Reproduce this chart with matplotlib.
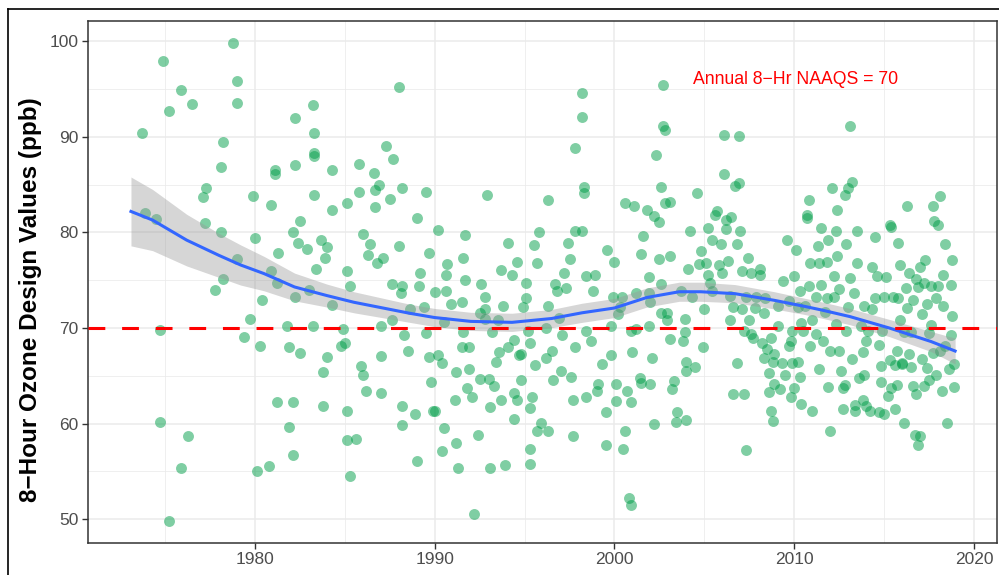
import numpy as np
import matplotlib
matplotlib.use("Agg")
import matplotlib.pyplot as plt
from matplotlib.lines import Line2D

plt.rcParams['font.family'] = ['Liberation Sans', 'DejaVu Sans']

# design values (year, ppb)
obs_year = [1973.7, 1973.9, 1974.5, 1974.7, 1974.7, 1974.9, 1975.2, 1975.2, 1975.9, 1975.9,
            1976.3, 1976.5, 1977.1, 1977.3, 1977.2, 1977.8, 1978.1, 1978.2, 1978.2, 1978.1,
            1978.8, 1979.0, 1979.0, 1979.0, 1979.4, 1979.7, 1979.9, 1980.0, 1980.1, 1980.3,
            1980.4, 1980.8, 1980.9, 1980.9, 1981.1, 1981.1, 1981.2, 1981.3, 1981.2, 1981.8,
            1981.9, 1982.1, 1982.2, 1982.2, 1982.2, 1982.1, 1981.9, 1982.1, 1982.5, 1982.4,
            1982.5, 1982.9, 1983.0, 1983.2, 1983.3, 1983.3, 1983.3, 1983.3, 1983.2, 1983.4,
            1983.7, 1983.9, 1983.8, 1983.8, 1984.0, 1984.0, 1984.3, 1984.3, 1984.3, 1984.8,
            1984.9, 1985.0, 1985.1, 1985.1, 1985.1, 1985.1, 1985.3, 1985.3, 1985.6, 1985.8,
            1985.8, 1985.9, 1986.0, 1986.0, 1986.2, 1986.3, 1986.4, 1986.6, 1986.7, 1986.7,
            1986.9, 1986.8, 1987.0, 1987.0, 1987.0, 1987.1, 1987.3, 1987.5, 1987.6, 1987.6,
            1987.7, 1988.0, 1988.0, 1988.1, 1988.2, 1988.2, 1988.2, 1988.2, 1988.3, 1988.5,
            1988.6, 1988.9, 1989.0, 1989.0, 1989.1, 1989.2, 1989.4, 1989.5, 1989.5, 1989.7,
            1989.7, 1989.8, 1989.9, 1990.0, 1990.0, 1990.2, 1990.2, 1990.4, 1990.5, 1990.6,
            1990.6, 1990.7, 1990.4, 1990.5, 1990.9, 1991.1, 1991.2, 1991.2, 1991.5, 1991.5,
            1991.6, 1991.7, 1991.7, 1991.3, 1991.6, 1991.8, 1991.9, 1992.1, 1991.9, 1992.2,
            1992.4, 1992.5, 1992.5, 1992.6, 1992.8, 1992.8, 1992.8, 1992.9, 1993.1, 1993.1,
            1993.0, 1993.2, 1993.3, 1993.4, 1993.5, 1993.6, 1993.7, 1993.7, 1993.8, 1993.9,
            1994.1, 1994.1, 1994.3, 1994.4, 1994.4, 1994.4, 1994.6, 1994.6, 1994.7, 1994.8,
            1994.8, 1994.9, 1995.1, 1995.1, 1995.2, 1995.3, 1995.3, 1995.3, 1995.3, 1995.4,
            1995.6, 1995.5, 1995.7, 1995.9, 1995.7, 1995.8, 1996.2, 1996.2, 1996.3, 1996.3,
            1996.3, 1996.5, 1996.6, 1996.8, 1996.7, 1996.9, 1997.1, 1997.0, 1997.2, 1997.3,
            1997.4, 1997.5, 1997.6, 1997.7, 1997.7, 1997.8, 1997.8, 1997.8, 1998.2, 1998.2,
            1998.2, 1998.3, 1998.3, 1998.4, 1998.4, 1998.4, 1998.7, 1998.8, 1998.9, 1999.0,
            1999.1, 1999.3, 1999.5, 1999.5, 1999.6, 1999.8, 1999.8, 1999.9, 2000.0, 2000.1,
            2000.1, 2000.2, 2000.3, 2000.4, 2000.5, 2000.6, 2000.6, 2000.7, 2000.8, 2000.9,
            2000.9, 2001.0, 2000.9, 2001.1, 2001.2, 2001.2, 2001.4, 2001.5, 2001.5, 2001.6,
            2001.8, 2001.9, 2001.9, 2001.9, 2002.0, 2002.0, 2002.1, 2002.2, 2002.2, 2002.3,
            2002.5, 2002.5, 2002.6, 2002.6, 2002.6, 2002.7, 2002.7, 2002.8, 2002.8, 2002.9,
            2002.9, 2003.1, 2003.1, 2003.1, 2003.2, 2003.3, 2003.4, 2003.5, 2003.7, 2003.8,
            2003.9, 2003.9, 2004.0, 2004.0, 2004.0, 2004.1, 2004.2, 2004.3, 2004.5, 2004.6,
            2004.7, 2004.8, 2004.9, 2005.0, 2005.1, 2005.2, 2005.2, 2005.3, 2005.4, 2005.4,
            2005.6, 2005.7, 2005.8, 2005.9, 2006.0, 2006.1, 2006.1, 2006.2, 2006.2, 2006.3,
            2006.4, 2006.4, 2006.5, 2006.6, 2006.6, 2006.7, 2006.8, 2006.8, 2006.9, 2006.9,
            2007.0, 2007.1, 2007.1, 2007.2, 2007.2, 2007.3, 2007.3, 2007.4, 2007.5, 2007.6,
            2007.6, 2007.7, 2007.8, 2007.9, 2008.1, 2008.1, 2008.2, 2008.3, 2008.3, 2008.4,
            2008.5, 2008.6, 2008.6, 2008.7, 2008.7, 2008.8, 2008.8, 2008.9, 2008.9, 2009.1,
            2009.1, 2009.2, 2009.3, 2009.4, 2009.5, 2009.6, 2009.7, 2009.7, 2009.8, 2009.8,
            2009.9, 2009.9, 2010.0, 2010.0, 2010.1, 2010.2, 2010.2, 2010.3, 2010.3, 2010.4,
            2010.4, 2010.5, 2010.6, 2010.7, 2010.7, 2010.8, 2010.8, 2010.9, 2010.9, 2011.0,
            2011.0, 2011.2, 2011.2, 2011.3, 2011.4, 2011.4, 2011.5, 2011.5, 2011.6, 2011.7,
            2011.8, 2011.8, 2011.9, 2011.9, 2012.0, 2012.0, 2012.1, 2012.2, 2012.2, 2012.3,
            2012.3, 2012.4, 2012.4, 2012.5, 2012.5, 2012.6, 2012.7, 2012.7, 2012.8, 2012.8,
            2012.9, 2012.9, 2013.0, 2013.0, 2013.1, 2013.1, 2013.2, 2013.2, 2013.3, 2013.4,
            2013.4, 2013.5, 2013.5, 2013.6, 2013.7, 2013.8, 2013.8, 2013.9, 2013.9, 2014.0,
            2014.0, 2014.1, 2014.2, 2014.3, 2014.3, 2014.5, 2014.5, 2014.6, 2014.7, 2014.7,
            2014.8, 2014.8, 2014.9, 2015.0, 2015.0, 2015.1, 2015.2, 2015.3, 2015.3, 2015.4,
            2015.4, 2015.5, 2015.6, 2015.6, 2015.7, 2015.7, 2015.8, 2015.8, 2015.9, 2015.9,
            2016.0, 2016.0, 2016.1, 2016.1, 2016.2, 2016.3, 2016.3, 2016.4, 2016.4, 2016.5,
            2016.5, 2016.6, 2016.6, 2016.7, 2016.8, 2016.8, 2016.9, 2016.9, 2017.0, 2017.0,
            2017.1, 2017.1, 2017.2, 2017.2, 2017.3, 2017.4, 2017.4, 2017.5, 2017.5, 2017.6,
            2017.6, 2017.7, 2017.7, 2017.8, 2017.9, 2017.9, 2018.0, 2018.0, 2018.1, 2018.1,
            2018.2, 2018.3, 2018.3, 2018.4, 2018.4, 2018.5, 2018.6, 2018.7, 2018.7, 2018.8,
            2018.8, 2018.9, 2018.9]
obs_ppb = [90.4, 82.0, 81.4, 69.8, 60.2, 97.9, 92.7, 49.8, 55.4, 94.9,
           58.7, 93.4, 83.7, 84.6, 81.0, 74.0, 86.8, 89.5, 75.1, 80.1,
           99.8, 95.8, 93.5, 77.2, 69.1, 71.0, 83.8, 79.4, 55.1, 68.1,
           72.9, 55.6, 82.9, 76.0, 86.5, 86.1, 74.7, 77.9, 62.3, 70.2,
           68.0, 80.0, 73.2, 92.0, 87.1, 62.3, 59.7, 56.7, 67.4, 78.9,
           81.2, 78.3, 74.0, 93.3, 90.4, 88.3, 88.0, 83.9, 70.2, 76.2,
           79.2, 77.3, 65.4, 61.8, 67.0, 78.5, 82.3, 86.5, 72.4, 68.1,
           69.9, 68.4, 61.3, 58.3, 83.1, 76.0, 74.4, 54.5, 58.4, 87.2,
           84.2, 66.0, 79.8, 65.1, 63.4, 77.6, 78.8, 86.2, 82.7, 84.4,
           85.0, 76.8, 70.2, 67.1, 63.2, 77.3, 89.0, 83.5, 74.6, 70.8,
           87.7, 95.2, 78.6, 73.7, 84.6, 61.8, 74.4, 59.9, 69.3, 67.6,
           72.0, 61.0, 56.1, 81.5, 74.4, 75.8, 72.2, 69.5, 84.2, 67.0,
           77.9, 64.4, 61.3, 73.8, 61.3, 67.2, 80.3, 66.3, 70.6, 75.5,
           73.9, 76.7, 57.1, 59.5, 72.5, 62.5, 58.0, 65.4, 68.0, 72.7,
           69.6, 75.0, 79.7, 55.4, 77.3, 63.7, 65.7, 62.8, 68.0, 50.6,
           58.8, 64.7, 71.6, 74.6, 71.0, 73.3, 72.0, 83.9, 61.7, 55.4,
           64.7, 69.6, 63.9, 66.4, 70.8, 67.5, 62.5, 76.1, 72.3, 55.7,
           68.0, 78.9, 75.6, 68.8, 63.2, 60.5, 62.5, 76.9, 67.2, 64.6,
           67.3, 72.2, 74.7, 73.1, 69.7, 55.8, 68.4, 61.6, 57.4, 62.8,
           66.1, 78.7, 76.8, 60.1, 59.2, 80.1, 66.9, 70.0, 72.3, 83.4,
           59.2, 67.6, 64.6, 73.9, 74.6, 71.1, 69.3, 65.5, 75.8, 74.2,
           78.9, 77.2, 64.9, 62.5, 58.7, 80.2, 88.8, 68.0, 94.6, 92.1,
           80.2, 84.8, 84.1, 75.4, 69.7, 62.8, 68.6, 73.9, 75.5, 63.4,
           64.1, 66.2, 61.2, 57.8, 78.2, 70.2, 67.2, 73.3, 76.9, 62.4,
           64.2, 71.5, 72.2, 73.2, 57.4, 59.2, 83.1, 63.4, 52.2, 62.3,
           69.7, 67.5, 51.5, 82.8, 69.9, 73.7, 64.8, 64.3, 77.8, 79.6,
           82.3, 75.3, 70.2, 73.7, 72.7, 64.1, 66.9, 81.7, 60.0, 88.1,
           77.2, 81.1, 74.6, 71.6, 84.8, 95.4, 91.1, 90.7, 83.1, 71.6,
           70.8, 77.5, 83.2, 68.9, 63.6, 64.5, 60.2, 61.2, 73.9, 68.6,
           69.6, 70.9, 66.5, 65.5, 60.4, 76.2, 80.2, 73.3, 65.9, 84.1,
           76.7, 78.1, 68.0, 72.0, 76.8, 75.5, 80.5, 74.7, 79.2, 73.9,
           81.8, 82.2, 76.6, 78.8, 75.8, 86.1, 90.2, 81.3, 80.4, 77.0,
           73.4, 70.8, 81.6, 72.2, 63.1, 84.9, 78.8, 66.3, 85.2, 90.1,
           80.2, 76.0, 72.0, 69.7, 63.1, 57.2, 73.2, 77.3, 70.8, 75.8,
           69.4, 69.0, 72.1, 73.2, 75.6, 76.2, 68.4, 71.6, 66.9, 73.1,
           67.8, 65.3, 63.3, 61.3, 69.0, 66.5, 60.3, 67.3, 64.2, 70.2,
           72.3, 63.6, 66.3, 74.9, 65.1, 79.2, 72.8, 68.1, 62.8, 68.6,
           69.7, 66.3, 75.4, 63.7, 78.2, 72.2, 66.5, 64.9, 73.9, 70.5,
           62.1, 69.7, 72.3, 81.5, 81.8, 83.4, 74.4, 68.1, 76.8, 70.8,
           61.3, 73.2, 69.4, 78.6, 76.8, 65.7, 80.5, 74.5, 68.6, 71.7,
           76.9, 73.1, 63.8, 79.2, 67.6, 59.2, 84.6, 73.2, 75.4, 70.4,
           80.2, 82.4, 77.5, 74.1, 67.6, 65.5, 61.5, 63.7, 64.0, 83.9,
           69.7, 78.8, 72.2, 84.7, 75.2, 91.1, 85.3, 66.8, 73.7, 62.0,
           61.3, 76.8, 80.2, 64.8, 70.2, 62.5, 67.5, 72.3, 65.1, 68.6,
           61.8, 69.7, 61.3, 72.0, 76.4, 73.1, 79.5, 75.4, 61.2, 68.2,
           64.4, 66.0, 69.7, 61.0, 73.3, 75.3, 62.9, 80.8, 66.7, 80.6,
           63.7, 73.3, 66.1, 61.5, 64.0, 67.6, 73.1, 78.9, 76.6, 70.8,
           66.2, 66.3, 60.1, 69.6, 74.2, 72.1, 82.8, 75.8, 67.3, 65.9,
           69.6, 63.9, 72.9, 58.8, 75.1, 63.1, 57.8, 74.3, 58.7, 76.4,
           66.8, 71.5, 74.7, 63.9, 77.1, 72.5, 65.8, 69.5, 64.6, 70.3,
           74.4, 82.8, 67.4, 81.2, 73.1, 65.1, 80.8, 74.4, 67.6, 83.8,
           63.4, 72.3, 75.6, 78.8, 68.1, 60.1, 65.7, 69.3, 74.5, 77.1,
           71.3, 66.2, 63.8]

# loess trend and its confidence band
trend_year = [1973.1, 1974.3, 1976.2, 1978.0, 1979.2, 1980.5, 1982.2, 1984.0, 1985.5,
              1988.6, 1990.0, 1992.0, 1994.3, 1996.5, 1998.2, 2000.0, 2001.8, 2003.6,
              2004.8, 2006.7, 2008.9, 2010.5, 2011.5, 2013.1, 2015.3, 2017.6, 2018.95]
trend_ppb = [82.2, 81.3, 79.2, 77.6, 76.6, 75.7, 74.3, 73.4, 72.7,
             71.55, 71.1, 70.7, 70.6, 71.0, 71.6, 72.1, 73.2, 73.8,
             73.8, 73.6, 72.9, 72.3, 71.9, 71.2, 70.0, 68.6, 67.6]
trend_se = [3.6, 3.2, 2.7, 2.3, 2.1, 1.8, 1.45, 1.2, 1.1,
            0.95, 0.95, 0.95, 0.95, 0.95, 1.0, 1.0, 1.0, 1.0,
            1.0, 0.95, 0.9, 0.85, 0.85, 0.85, 0.9, 1.05, 1.35]

naaqs = 70

fig = plt.figure(figsize=(9.99, 5.75), dpi=100)
ax = fig.add_axes([88/999, 32.3/575, 909/999, 521.7/575])

ax.set_xlim(1970.71, 2021.28)
ax.set_ylim(47.55, 102.12)

ax.set_xticks([1980, 1990, 2000, 2010, 2020])
ax.set_yticks([50, 60, 70, 80, 90, 100])
ax.set_xticks([1975, 1985, 1995, 2005, 2015], minor=True)
ax.set_yticks([55, 65, 75, 85, 95], minor=True)
ax.grid(which='major', color='#EBEBEB', lw=1.1)
ax.grid(which='minor', color='#EBEBEB', lw=0.55)
ax.set_axisbelow(True)
ax.tick_params(which='minor', length=0)
ax.tick_params(which='major', length=4, width=1, color='#333333',
               labelsize=12.5, labelcolor='#4D4D4D', pad=3)
for s in ax.spines.values():
    s.set_color('#333333')
    s.set_linewidth(1.1)

ax.scatter(obs_year, obs_ppb, s=62, color='#009E49', alpha=0.5, linewidths=0, zorder=2)

lo = np.array(trend_ppb) - np.array(trend_se)
hi = np.array(trend_ppb) + np.array(trend_se)
ax.fill_between(trend_year, lo, hi, color='#999999', alpha=0.4, lw=0, zorder=3)
ax.plot(trend_year, trend_ppb, color='#3366FF', lw=2.2, zorder=4)

ax.axhline(naaqs, color='red', lw=2.2, dashes=(5.5, 5.5), zorder=5)
ax.text(2010.05, 95.95, 'Annual 8\u2212Hr NAAQS = 70', color='red', fontsize=12.7,
        ha='center', va='center')

ax.set_ylabel('8\u2212Hour Ozone Design Values (ppb)', fontsize=17.5, fontweight='bold',
              va='center')
ax.yaxis.set_label_coords(-0.0638, 0.466)

# outer frame of the original screenshot
fig.add_artist(Line2D([8/999, 8/999], [0, 1 - 9/575], color='black', lw=1.2,
                      transform=fig.transFigure))
fig.add_artist(Line2D([8/999, 1], [1 - 9/575, 1 - 9/575], color='black', lw=1.2,
                      transform=fig.transFigure))

fig.savefig('out.png', dpi=100)
